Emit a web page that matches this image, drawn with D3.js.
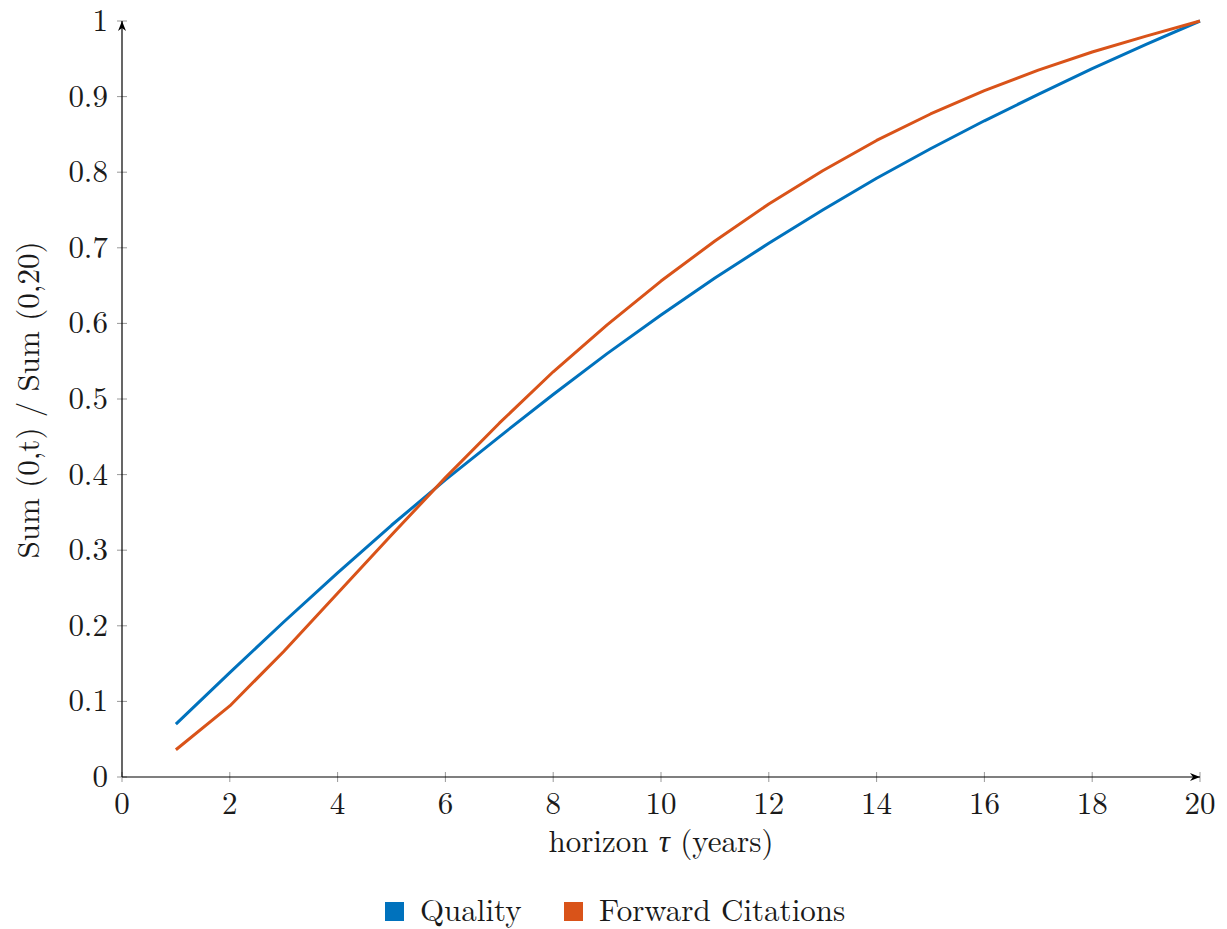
<!DOCTYPE html>
<html><head><meta charset="utf-8">
<script src="https://cdn.jsdelivr.net/npm/d3@7"></script>
<style>body{margin:0;background:#fff}svg{display:block}</style>
</head><body>
<script>
const years = [1,2,3,4,5,6,7,8,9,10,11,12,13,14,15,16,17,18,19,20];
const quality = [0.070,0.138,0.205,0.270,0.333,0.393,0.450,0.506,0.560,0.611,0.660,0.706,0.750,0.792,0.831,0.868,0.903,0.937,0.969,1.000];
const forward = [0.036,0.094,0.166,0.243,0.320,0.396,0.468,0.536,0.598,0.656,0.709,0.758,0.802,0.842,0.877,0.908,0.935,0.959,0.980,1.000];
const xTicks = [0,2,4,6,8,10,12,14,16,18,20];
const yTicks = [0,0.1,0.2,0.3,0.4,0.5,0.6,0.7,0.8,0.9,1];
const seriesNames = ["Quality","Forward Citations"];
const seriesColors = ["#0072BD","#D95319"];

const FONT = "'Latin Modern Roman','CMU Serif','Liberation Serif',serif";
const FS = 31;
const TXT = "#1a1a1a";
const W=1227,H=929;
const svg=d3.select("body").append("svg").attr("width",W).attr("height",H);
const x=d3.scaleLinear().domain([0,20]).range([122,1200]);
const y=d3.scaleLinear().domain([0,1]).range([777,21]);

function txt(sel){ return sel.style("font-family",FONT).attr("font-size",FS).attr("fill",TXT); }

const defs=svg.append("defs");
defs.append("marker").attr("id","arr").attr("viewBox","0 0 10 10").attr("refX",10).attr("refY",5)
  .attr("markerWidth",10).attr("markerHeight",10).attr("markerUnits","userSpaceOnUse").attr("orient","auto")
  .append("path").attr("d","M0,1 L10,5 L0,9 L3,5 Z").attr("fill","#000");

const g=svg.append("g");
g.selectAll(".xt").data(xTicks).join("line").attr("x1",d=>x(d)).attr("x2",d=>x(d))
  .attr("y1",y(0)-5).attr("y2",y(0)+5).attr("stroke","#999").attr("stroke-width",1);
g.selectAll(".yt").data(yTicks).join("line").attr("y1",d=>y(d)).attr("y2",d=>y(d))
  .attr("x1",x(0)-5).attr("x2",x(0)+5).attr("stroke","#999").attr("stroke-width",1);

g.append("line").attr("x1",x(0)).attr("x2",x(20)).attr("y1",y(0)).attr("y2",y(0))
  .attr("stroke","#000").attr("stroke-width",1.2).attr("marker-end","url(#arr)");
g.append("line").attr("x1",x(0)).attr("x2",x(0)).attr("y1",y(0)).attr("y2",y(1))
  .attr("stroke","#000").attr("stroke-width",1.2).attr("marker-end","url(#arr)");

txt(g.selectAll(".xl").data(xTicks).join("text")).attr("x",d=>x(d)).attr("y",y(0)+37)
  .attr("text-anchor","middle").text(d=>d);
txt(g.selectAll(".yl").data(yTicks).join("text")).attr("x",x(0)-14).attr("y",d=>y(d)+10)
  .attr("text-anchor","end").text(d=>d);

const line=d3.line().x((d,i)=>x(years[i])).y(d=>y(d));
[quality,forward].forEach((s,k)=>{
  svg.append("path").datum(s).attr("d",line).attr("fill","none")
    .attr("stroke",seriesColors[k]).attr("stroke-width",3).attr("stroke-linejoin","round");
});

const xt=txt(svg.append("text")).attr("x",661).attr("y",852).attr("text-anchor","middle");
xt.append("tspan").text("horizon ");
xt.append("tspan").attr("font-style","italic").text("τ");
xt.append("tspan").text(" (years)");
txt(svg.append("text")).attr("transform","translate(39,400) rotate(-90)").attr("text-anchor","middle")
  .text("Sum (0,t) / Sum (0,20)");

const legX=[385,564];
seriesNames.forEach((n,k)=>{
  svg.append("rect").attr("x",legX[k]).attr("y",902).attr("width",19).attr("height",19).attr("fill",seriesColors[k]);
  txt(svg.append("text")).attr("x",legX[k]+35).attr("y",921).text(n);
});
</script>
</body></html>
